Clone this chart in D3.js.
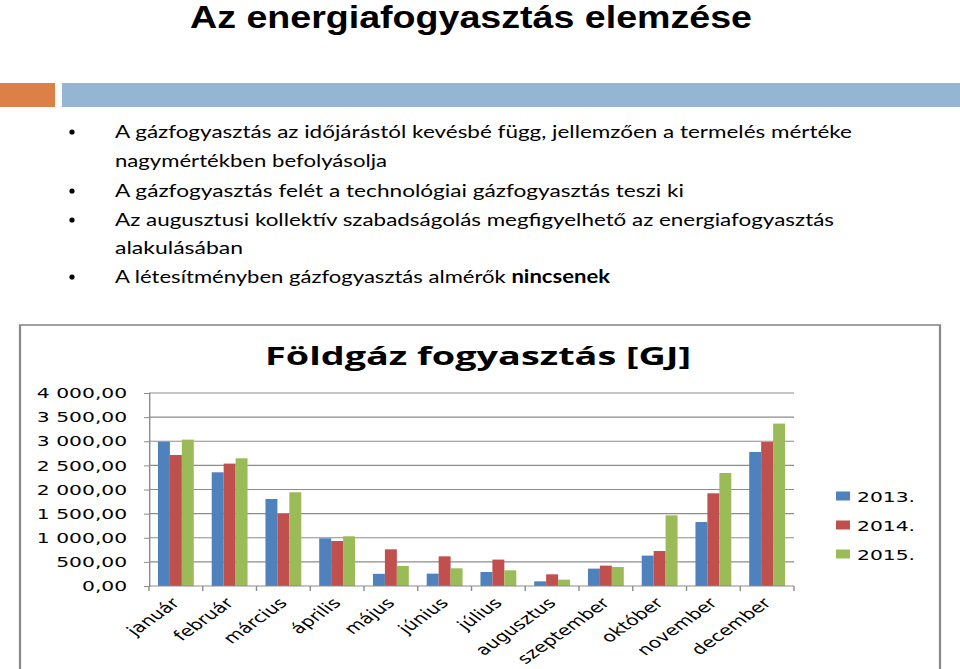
<!DOCTYPE html>
<html>
<head>
<meta charset="utf-8">
<script src="https://cdn.jsdelivr.net/npm/d3@7"></script>
<style>
  body { margin: 0; background: #fff; }
  svg { display: block; }
</style>
</head>
<body>
<svg width="960" height="669"></svg>
<script>
// data
const months = ['január', 'február', 'március', 'április', 'május', 'június',
  'július', 'augusztus', 'szeptember', 'október', 'november', 'december'];
const years = ['2013.', '2014.', '2015.'];
const v2013 = [2990, 2357, 1803, 988, 252, 256, 290, 97, 360, 630, 1326, 2777];
const v2014 = [2715, 2537, 1492, 933, 760, 615, 547, 242, 422, 725, 1921, 2984];
const v2015 = [3034, 2647, 1942, 1030, 415, 367, 325, 132, 394, 1465, 2342, 3366];
const yTicks = [0, 500, 1000, 1500, 2000, 2500, 3000, 3500, 4000];
const colors = ['#4f81bd', '#c0504d', '#9bbb59'];

const bullets = [
  { text: 'A gázfogyasztás az időjárástól kevésbé függ, jellemzően a termelés mértéke', bullet: true, w: 737 },
  { text: 'nagymértékben befolyásolja', bullet: false, w: 272 },
  { text: 'A gázfogyasztás felét a technológiai gázfogyasztás teszi ki', bullet: true, w: 569 },
  { text: 'Az augusztusi kollektív szabadságolás megfigyelhető az energiafogyasztás', bullet: true, w: 719 },
  { text: 'alakulásában', bullet: false, w: 128 },
  { text: 'A létesítményben gázfogyasztás almérők ', bold: 'nincsenek', bullet: true, w: 495 }
];

const svg = d3.select('svg');

// slide title + header bars
svg.append('text')
  .attr('x', 190).attr('y', 28)
  .attr('font-family', 'Liberation Sans, Arial, sans-serif')
  .attr('font-weight', 'bold').attr('font-size', 32)
  .attr('textLength', 562).attr('lengthAdjust', 'spacingAndGlyphs')
  .text('Az energiafogyasztás elemzése');

svg.append('rect').attr('x', 0).attr('y', 83).attr('width', 55).attr('height', 24).attr('fill', '#dd8047');
svg.append('rect').attr('x', 62).attr('y', 83).attr('width', 898).attr('height', 24).attr('fill', '#94b6d2');

// bullet list
const baselines = [138, 167, 197, 226, 254, 283];
bullets.forEach((b, i) => {
  if (b.bullet) {
    svg.append('circle').attr('cx', 72).attr('cy', baselines[i] - 6).attr('r', 2.6).attr('fill', '#000');
  }
  const t = svg.append('text')
    .attr('x', 115).attr('y', baselines[i])
    .attr('font-family', 'Lato, sans-serif').attr('font-size', 18)
    .attr('textLength', b.w).attr('lengthAdjust', 'spacingAndGlyphs');
  t.append('tspan').text(b.text);
  if (b.bold) t.append('tspan').attr('font-weight', 'bold').text(b.bold);
});

// chart, drawn in narrow coords and stretched like the original picture
const K = 1.4;
const chart = svg.append('g').attr('transform', `scale(${K},1)`);

chart.append('rect')
  .attr('x', 20 / K).attr('y', 325)
  .attr('width', 920 / K).attr('height', 400)
  .attr('fill', '#fff').attr('stroke', '#8a8a8a').attr('stroke-width', 1.6);

chart.append('text')
  .attr('x', 478 / K).attr('y', 365)
  .attr('text-anchor', 'middle')
  .attr('font-family', 'Open Sans, sans-serif')
  .attr('font-weight', 'bold').attr('font-size', 25)
  .attr('textLength', 426 / K).attr('lengthAdjust', 'spacingAndGlyphs')
  .text('Földgáz fogyasztás [GJ]');

const plotLeft = 149 / K, plotRight = 794 / K, plotTop = 393, plotBottom = 586;

const x0 = d3.scaleBand().domain(months).range([plotLeft, plotRight]).padding(0);
const bw = x0.bandwidth() / 4.5;
const x1 = d3.scaleBand().domain(years).range([bw * 0.75, x0.bandwidth() - bw * 0.75]).padding(0);
const y = d3.scaleLinear().domain([0, 4000]).range([plotBottom, plotTop]);

const fmt = d3.formatLocale({ decimal: ',', thousands: ' ', grouping: [3], currency: ['', ''] }).format(',.2f');

// gridlines
chart.append('g')
  .selectAll('line')
  .data(yTicks.filter(d => d > 0))
  .enter()
  .append('line')
  .attr('x1', plotLeft).attr('x2', plotRight)
  .attr('y1', d => y(d)).attr('y2', d => y(d))
  .attr('stroke', '#8c8c8c').attr('stroke-width', 1.2);

// y axis
const yAxis = chart.append('g')
  .attr('transform', `translate(${plotLeft},0)`)
  .call(d3.axisLeft(y).tickValues(yTicks).tickSize(3.6).tickPadding(12).tickFormat(fmt));
yAxis.select('.domain').attr('stroke', '#8c8c8c');
yAxis.selectAll('.tick line').attr('stroke', '#8c8c8c');
yAxis.selectAll('text')
  .attr('font-family', 'DejaVu Sans, Verdana, sans-serif')
  .attr('font-size', 14.5).attr('fill', '#000');

// bars
const series = [v2013, v2014, v2015];
const rows = months.map((m, i) => ({ month: m, vals: years.map((yr, j) => ({ year: yr, value: series[j][i], c: colors[j] })) }));

chart.append('g')
  .selectAll('.group')
  .data(rows)
  .enter()
  .append('g')
  .attr('transform', d => `translate(${x0(d.month)},0)`)
  .selectAll('rect')
  .data(d => d.vals)
  .enter()
  .append('rect')
  .attr('x', d => x1(d.year))
  .attr('width', x1.bandwidth())
  .attr('y', d => y(d.value))
  .attr('height', d => y(0) - y(d.value))
  .attr('fill', d => d.c);

// x axis line, ticks at band edges and rotated labels
chart.append('line')
  .attr('x1', plotLeft).attr('x2', plotRight)
  .attr('y1', plotBottom).attr('y2', plotBottom)
  .attr('stroke', '#8c8c8c').attr('stroke-width', 1.2);

chart.append('g')
  .selectAll('line')
  .data(months.map(m => x0(m)).concat([plotRight]))
  .enter()
  .append('line')
  .attr('x1', d => d).attr('x2', d => d)
  .attr('y1', plotBottom).attr('y2', plotBottom + 5)
  .attr('stroke', '#8c8c8c');

chart.append('g')
  .selectAll('text')
  .data(months)
  .enter()
  .append('text')
  .attr('transform', d => `translate(${x0(d) + x0.bandwidth() / 2 + 3.5},${plotBottom + 18}) rotate(-45)`)
  .attr('text-anchor', 'end')
  .attr('font-family', 'DejaVu Sans, Verdana, sans-serif')
  .attr('font-size', 14.5)
  .text(d => d);

// legend
const legend = chart.append('g')
  .selectAll('g')
  .data(years)
  .enter()
  .append('g')
  .attr('transform', (d, i) => `translate(${836 / K},${496 + i * 29})`);
legend.append('rect')
  .attr('x', 0).attr('y', -4.5)
  .attr('width', 14 / K).attr('height', 9)
  .attr('fill', (d, i) => colors[i]);
legend.append('text')
  .attr('x', 21 / K).attr('y', 5.5)
  .attr('font-family', 'DejaVu Sans, Verdana, sans-serif')
  .attr('font-size', 14.5)
  .text(d => d);
</script>
</body>
</html>
